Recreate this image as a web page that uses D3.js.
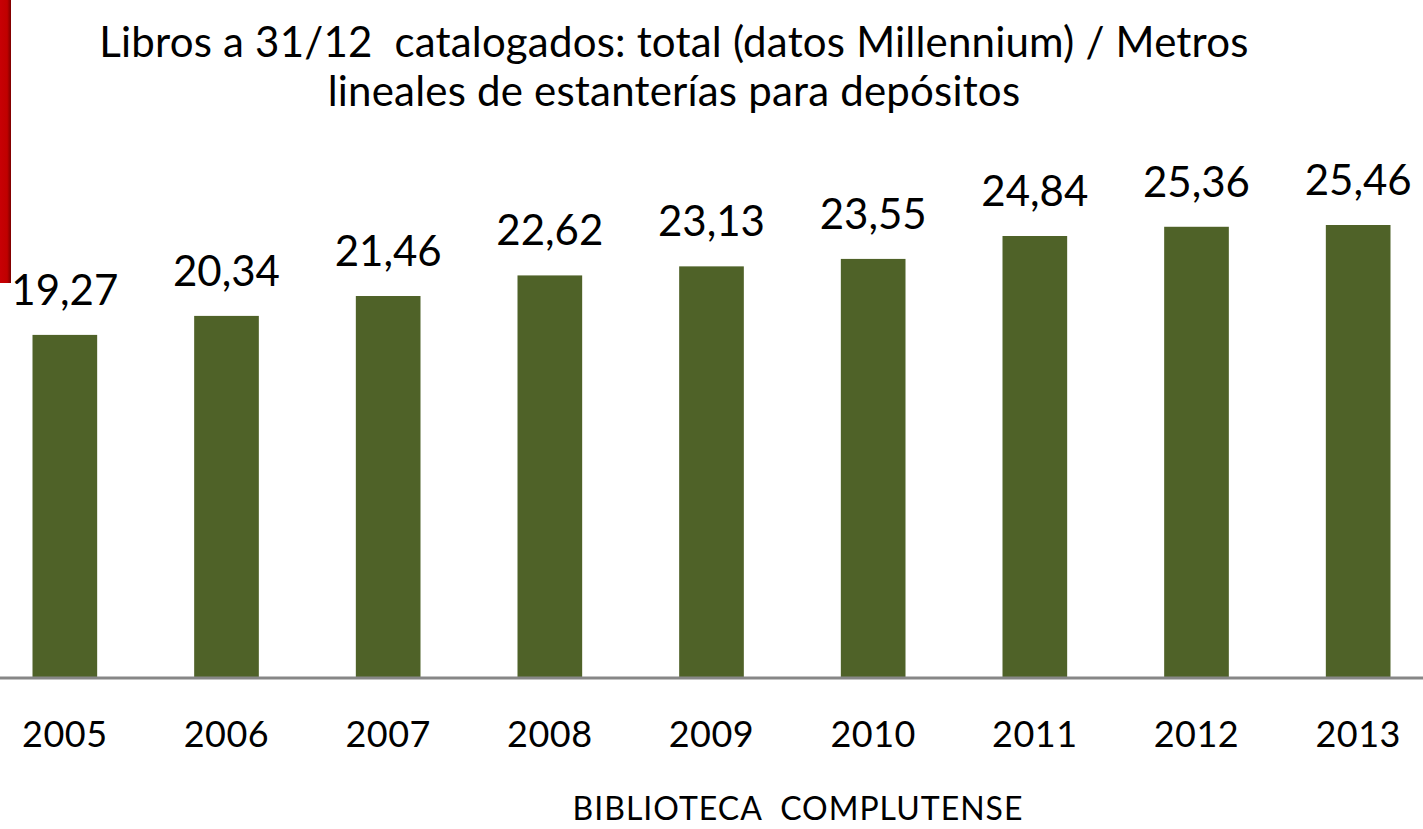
<!DOCTYPE html>
<html>
<head>
<meta charset="utf-8">
<script src="https://cdn.jsdelivr.net/npm/d3@7"></script>
<style>
  html, body { margin: 0; padding: 0; background: #fff; }
  svg { display: block; font-family: Lato, "Open Sans", sans-serif; }
  text { white-space: pre; }
</style>
</head>
<body>
<svg id="chart" width="1423" height="829"></svg>
<script>
// Libros catalogados por metro lineal de estantería, 2005–2013
const years = ["2005", "2006", "2007", "2008", "2009", "2010", "2011", "2012", "2013"];
const values = [19.27, 20.34, 21.46, 22.62, 23.13, 23.55, 24.84, 25.36, 25.46];
const titleLines = [
  "Libros a 31/12  catalogados: total (datos Millennium) / Metros",
  "lineales de estanterías para depósitos"
];
const footer = "BIBLIOTECA  COMPLUTENSE";

const W = 1423, H = 829;
const baseY = 677;
const svg = d3.select("#chart");

// decorative red band on the left edge
const defs = svg.append("defs");
const grad = defs.append("linearGradient").attr("id", "band").attr("x1", 0).attr("x2", 1).attr("y1", 0).attr("y2", 0);
grad.append("stop").attr("offset", "0%").attr("stop-color", "#c80005");
grad.append("stop").attr("offset", "65%").attr("stop-color", "#c00000");
grad.append("stop").attr("offset", "100%").attr("stop-color", "#7a0000");
svg.append("rect").attr("x", 0).attr("y", 0).attr("width", 11).attr("height", 283).attr("fill", "url(#band)");

const x = d3.scaleBand().domain(years).range([-16, 1439]).paddingInner(0.6).paddingOuter(0.3);
const y = d3.scaleLinear().domain([0, 25.46]).range([baseY, 225]);

// bars
svg.append("g").selectAll("rect").data(values).join("rect")
  .attr("x", (d, i) => x(years[i]))
  .attr("y", d => y(d))
  .attr("width", x.bandwidth())
  .attr("height", d => baseY - y(d))
  .attr("fill", "#4f6228");

// value labels
const fmt = d => d.toFixed(2).replace(".", ",");
svg.append("g").selectAll("text").data(values).join("text")
  .attr("x", (d, i) => x(years[i]) + x.bandwidth() / 2)
  .attr("y", d => y(d) - 30)
  .attr("text-anchor", "middle")
  .attr("font-size", 42)
  .attr("fill", "#000")
  .text(fmt);

// category axis line
svg.append("line").attr("x1", 0).attr("x2", W).attr("y1", baseY + 1).attr("y2", baseY + 1)
  .attr("stroke", "#878787").attr("stroke-width", 3);

// year labels
const xAxis = d3.axisBottom(x).tickSize(0).tickPadding(0);
const gx = svg.append("g").attr("transform", `translate(0,${baseY})`).call(xAxis);
gx.select(".domain").remove();
gx.selectAll("text")
  .attr("font-family", "Lato, 'Open Sans', sans-serif")
  .attr("font-size", 36)
  .attr("letter-spacing", 0.5)
  .attr("fill", "#000")
  .attr("dy", null)
  .attr("y", 70);

// title
svg.append("g").selectAll("text").data(titleLines).join("text")
  .attr("x", 674)
  .attr("y", (d, i) => 57 + i * 49)
  .attr("text-anchor", "middle")
  .attr("font-size", 42)
  .attr("letter-spacing", 0.2)
  .attr("fill", "#000")
  .text(d => d);

// footer
svg.append("text")
  .attr("x", 798).attr("y", 820)
  .attr("text-anchor", "middle")
  .attr("font-size", 32)
  .attr("letter-spacing", 1)
  .attr("fill", "#000")
  .text(footer);
</script>
</body>
</html>
